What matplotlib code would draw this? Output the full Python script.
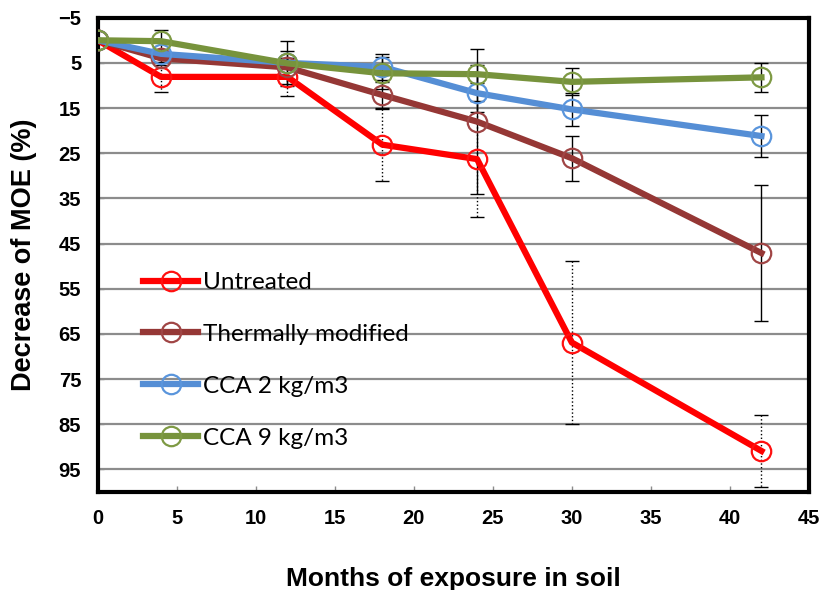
import numpy as np
import matplotlib.pyplot as plt

# months of exposure
months = [0, 4, 12, 18, 24, 30, 42]

# decrease of MOE (%) and error bars
untreated = [0, 8.1, 8.1, 23.1, 26.3, 66.9, 90.9]
untreated_err = [0, 3.3, 4.2, 8.0, 12.8, 18.0, 8.0]
thermal = [0, 4.0, 6.0, 12.1, 18.0, 26.1, 47.1]
thermal_err = [0, 1.5, 3.7, 2.8, 16.0, 5.0, 15.0]
cca2 = [0, 3.0, 5.0, 5.9, 11.7, 15.3, 21.2]
cca2_err = [0, 1.0, 1.0, 2.8, 4.1, 3.7, 4.6]
cca9 = [0, 0.2, 5.1, 7.3, 7.5, 9.2, 8.2]
cca9_err = [0, 2.4, 5.0, 3.5, 2.0, 3.0, 3.2]

labels = ['Untreated', 'Thermally modified', 'CCA 2 kg/m3', 'CCA 9 kg/m3']
colors = ['#FF0000', '#953735', '#558ED5', '#77933C']
edge_colors = ['#FF1010', '#A04545', '#5A95DC', '#7E9A44']

xticks = [0, 5, 10, 15, 20, 25, 30, 35, 40, 45]
yticks = [-5, 5, 15, 25, 35, 45, 55, 65, 75, 85, 95]

fig = plt.figure(figsize=(8.22, 5.9), dpi=100)
ax = fig.add_axes([0.119, 0.166, 0.865, 0.804])

series = [untreated, thermal, cca2, cca9]
errors = [untreated_err, thermal_err, cca2_err, cca9_err]

# error bars first (black, red series is dotted)
for i, (vals, err) in enumerate(zip(series, errors)):
    eb = ax.errorbar(months, vals, yerr=err, fmt='none', ecolor='black',
                     elinewidth=1, capsize=5, capthick=1, zorder=2)
    if i == 0:
        eb[2][0].set_linestyle(':')

for vals, lab, c, ec in zip(series, labels, colors, edge_colors):
    ax.plot(months, vals, color=c, lw=4.5, marker='o', ms=14,
            mfc='none', mec=ec, mew=1.6, label=lab, zorder=3)

ax.set_xlim(0, 45)
ax.set_ylim(100, -5)
ax.set_xticks(xticks)
ax.set_yticks(yticks)

for y in yticks[1:]:
    ax.axhline(y, color='#8C8C8C', lw=1.6, zorder=1)

for s in ax.spines.values():
    s.set_linewidth(3)
ax.tick_params(direction='in', length=4, width=1, colors='#8C8C8C',
               labelcolor='black')
ax.tick_params(axis='x', pad=12)
ax.tick_params(axis='y', pad=12)
for t in ax.get_xticklabels() + ax.get_yticklabels():
    t.set_fontfamily('Liberation Sans')
    t.set_fontweight('bold')
    t.set_fontsize(14.5)

ax.set_xlabel('Months of exposure in soil', fontfamily='Liberation Sans',
              fontweight='bold', fontsize=19, labelpad=28)
ax.set_ylabel('Decrease of MOE (%)', fontfamily='Liberation Sans',
              fontweight='bold', fontsize=19.5, labelpad=15)

leg = ax.legend(loc='upper left', bbox_to_anchor=(0.033, 0.51), frameon=False,
                prop={'family': 'Lato', 'size': 17.5}, handlelength=2.26,
                handletextpad=0.2, labelspacing=1.27)

fig.savefig('out.png', dpi=100)
